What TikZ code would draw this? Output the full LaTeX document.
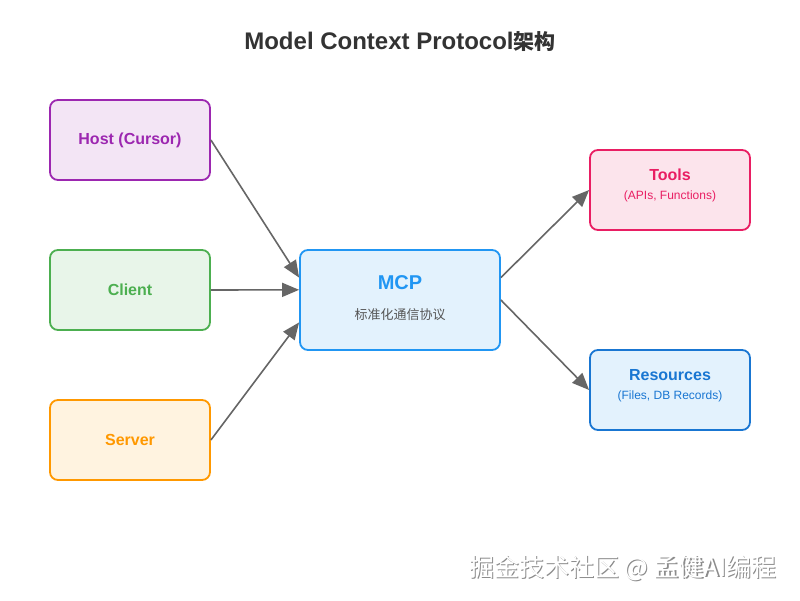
\documentclass[tikz,border=0pt]{standalone}
\usepackage{fontspec}
\setmainfont{Liberation Sans}
\newfontfamily\cjk{Noto Sans CJK SC}
\usetikzlibrary{arrows.meta,calc}
\definecolor{hostc}{HTML}{9C27B0}\definecolor{hostf}{HTML}{F3E5F5}
\definecolor{clic}{HTML}{4CAF50}\definecolor{clif}{HTML}{E8F5E9}
\definecolor{serc}{HTML}{FF9800}\definecolor{serf}{HTML}{FFF3E0}
\definecolor{mcpc}{HTML}{2196F3}\definecolor{mcpf}{HTML}{E3F2FD}
\definecolor{toolc}{HTML}{E91E63}\definecolor{toolf}{HTML}{FCE4EC}
\definecolor{resc}{HTML}{1976D2}\definecolor{resf}{HTML}{E3F2FD}
\definecolor{arrc}{HTML}{666666}
\definecolor{titc}{HTML}{333333}
\definecolor{subc}{HTML}{555555}
\begin{document}
\begin{tikzpicture}[x=1pt,y=-1pt,
  box/.style={draw, line width=1.8pt, rounded corners=8pt, minimum width=160pt, minimum height=80pt, inner sep=0pt, align=center},
  lbl/.style={font=\fontsize{16}{19}\selectfont\bfseries},
  sublbl/.style={font=\fontsize{12}{14}\selectfont},
  conn/.style={draw=arrc, line width=1.6pt, -{Triangle[length=17pt,width=14pt]}},
  wm/.style={font=\cjk\fontsize{25}{30}\selectfont, anchor=east}
]
\useasboundingbox[fill=white] (0,0) rectangle (800,600);
\node[font=\fontsize{24}{28}\selectfont\bfseries, text=titc] (title) at (400,42) {Model Context Protocol{\cjk\fontsize{21}{24}\selectfont 架构}};

\node[box, draw=hostc, fill=hostf, text=hostc, lbl] (host) at (130,140) {Host (Cursor)};
\node[box, draw=clic, fill=clif, text=clic, lbl] (client) at (130,290) {Client};
\node[box, draw=serc, fill=serf, text=serc, lbl] (server) at (130,440) {Server};

\node[box, draw=mcpc, fill=mcpf, minimum width=200pt, minimum height=100pt] (mcp) at (400,300) {};
\node[font=\fontsize{20}{24}\selectfont\bfseries, text=mcpc] (mcpt) at (400,283) {MCP};
\node[font=\cjk\fontsize{13}{16}\selectfont, text=subc] (mcps) at (400,315) {标准化通信协议};

\node[box, draw=toolc, fill=toolf] (tools) at (670,190) {};
\node[lbl, text=toolc] (toolst) at (670,175) {Tools};
\node[sublbl, text=toolc] (toolss) at (670,196) {(APIs, Functions)};

\node[box, draw=resc, fill=resf] (res) at (670,390) {};
\node[lbl, text=resc] (rest) at (670,375) {Resources};
\node[sublbl, text=resc] (ress) at (670,396) {(Files, DB Records)};

\draw[conn] (host.east) -- ($(mcp.north west)!0.28!(mcp.south west)$);
\draw[conn] (client.east) -- ($(mcp.north west)!0.4!(mcp.south west)$);
\draw[conn] (server.east) -- ($(mcp.north west)!0.72!(mcp.south west)$);
\draw[conn] ($(mcp.north east)!0.28!(mcp.south east)$) -- (tools.west);
\draw[conn] (mcp.east) -- (res.west);

\node[wm, text=black!45] (wmshadow) at (781.2,569.2) {掘金技术社区 @ 孟健AI编程};
\node[wm, text=white] (wmark) at (780,568) {掘金技术社区 @ 孟健AI编程};
\end{tikzpicture}
\end{document}
